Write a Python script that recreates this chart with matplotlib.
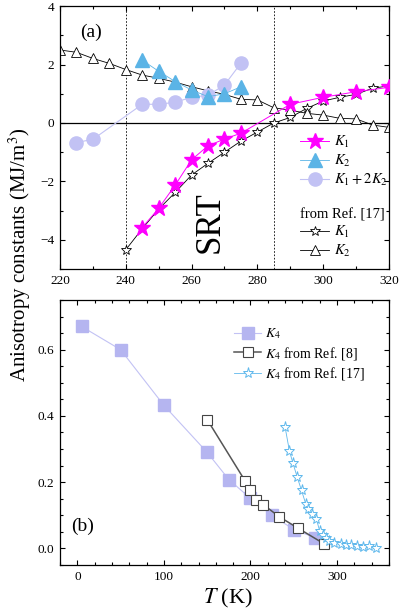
import matplotlib
matplotlib.use("Agg")
import matplotlib.pyplot as plt
from matplotlib.ticker import MultipleLocator

plt.rcParams['font.family'] = ['Liberation Serif', 'DejaVu Serif']
plt.rcParams['mathtext.fontset'] = 'stix'

# ---- Panel (a) data ----
T_k1 = [245, 250, 255, 260, 265, 270, 275, 290, 300, 310, 320]
K1 = [-3.58, -2.92, -2.13, -1.26, -0.78, -0.55, -0.35, 0.64, 0.88, 1.07, 1.22]
T_k2 = [245, 250, 255, 260, 265, 270, 275]
K2 = [2.15, 1.77, 1.42, 1.13, 0.90, 1.00, 1.24]
T_k12 = [225, 230, 245, 250, 255, 260, 265, 270, 275]
K12 = [-0.67, -0.56, 0.64, 0.64, 0.71, 0.88, 0.95, 1.30, 2.05]
T_ref_k1 = [240, 245, 250, 255, 260, 265, 270, 275, 280, 285, 290, 295, 300, 305, 310, 315, 320]
ref_K1 = [-4.34, -3.62, -2.95, -2.38, -1.78, -1.38, -1.0, -0.62, -0.31, 0.0, 0.19, 0.50, 0.75,
          0.88, 0.98, 1.19, 1.27]
T_ref_k2 = [220, 225, 230, 235, 240, 245, 250, 255, 260, 265, 270, 275, 280, 285, 290, 295,
            300, 305, 310, 315, 320]
ref_K2 = [2.50, 2.42, 2.21, 2.04, 1.83, 1.64, 1.53, 1.40, 1.24, 1.10, 0.98, 0.81, 0.79, 0.52,
          0.44, 0.33, 0.27, 0.16, 0.14, -0.07, -0.15]
srt_lines = [240, 285]

# ---- Panel (b) data ----
T_k4 = [5, 50, 100, 150, 175, 200, 225, 250, 275]
K4 = [0.67, 0.60, 0.432, 0.29, 0.208, 0.151, 0.10, 0.057, 0.032]
T_ref8 = [150, 194, 199, 206, 215, 233, 255, 285]
K4_ref8 = [0.389, 0.203, 0.177, 0.147, 0.132, 0.096, 0.061, 0.014]
T_ref17 = [240, 245, 249, 254, 259, 264, 267, 271, 276, 280, 284, 287, 291, 297, 304, 310,
           316, 323, 330, 337, 345]
K4_ref17 = [0.366, 0.294, 0.258, 0.215, 0.175, 0.133, 0.118, 0.105, 0.090, 0.052, 0.040,
            0.030, 0.022, 0.017, 0.012, 0.010, 0.009, 0.007, 0.005, 0.007, 0.002]

MAG = '#FF00FF'
BLUE = '#5BB4E6'
LAV = '#C2C2F4'
LAV_SQ = '#B5B5F0'
LBLUE = '#5FB8EC'

fig = plt.figure(figsize=(4.0, 6.16), dpi=100)
ax1 = fig.add_axes([0.15, 0.5633, 0.8225, 0.4267])
ax2 = fig.add_axes([0.15, 0.0828, 0.8225, 0.4302])

def style(ax):
    ax.tick_params(which='both', direction='in', top=True, right=True, labelsize=9.5,
                   width=0.8, pad=4)
    ax.tick_params(which='major', length=3.8)
    ax.tick_params(which='minor', length=2.0)
    for s in ax.spines.values():
        s.set_linewidth(0.9)

# ---- (a) ----
ax1.axhline(0, color='black', lw=0.9, zorder=1)
for x in srt_lines:
    ax1.axvline(x, color='black', lw=0.6, ls=(0, (2, 2)), zorder=1)
h_r1, = ax1.plot(T_ref_k1, ref_K1, '-', color='black', lw=0.6, marker='*', ms=7.5,
                 mfc='white', mec='black', mew=0.6, label='$K_1$', zorder=2)
h_r2, = ax1.plot(T_ref_k2, ref_K2, '-', color='black', lw=0.6, marker='^', ms=7,
                 mfc='white', mec='black', mew=0.6, label='$K_2$', zorder=2)
h_c, = ax1.plot(T_k12, K12, '-', color=LAV, lw=0.8, marker='o', ms=9.5, mfc=LAV, mec=LAV,
                label='$K_1 + 2K_2$', zorder=3)
h_t, = ax1.plot(T_k2, K2, '-', color=BLUE, lw=0.6, marker='^', ms=10, mfc=BLUE, mec=BLUE,
                label='$K_2$', zorder=4)
h_s, = ax1.plot(T_k1, K1, '-', color=MAG, lw=0.7, marker='*', ms=12, mfc=MAG, mec=MAG,
                label='$K_1$', zorder=5)
ax1.set_xlim(220, 320)
ax1.set_ylim(-5, 4)
ax1.xaxis.set_major_locator(MultipleLocator(20))
ax1.xaxis.set_minor_locator(MultipleLocator(10))
ax1.yaxis.set_major_locator(MultipleLocator(2))
ax1.yaxis.set_minor_locator(MultipleLocator(1))
style(ax1)
ax1.text(229.5, 3.1, '(a)', fontsize=14, ha='center', va='center')
ax1.text(265.5, -3.4, 'SRT', fontsize=25, rotation=90, ha='center', va='center')

leg1 = ax1.legend(handles=[h_s, h_t, h_c], loc='upper left', bbox_to_anchor=(0.73, 0.515),
                  frameon=False, fontsize=10.5, handlelength=2.0, handletextpad=0.3,
                  labelspacing=0.2, borderpad=0, borderaxespad=0)
ax1.add_artist(leg1)
leg2 = ax1.legend(handles=[h_r1, h_r2], loc='upper left', bbox_to_anchor=(0.73, 0.233),
                  frameon=False, fontsize=10.5, handlelength=2.0, handletextpad=0.3,
                  labelspacing=0.2, borderpad=0, borderaxespad=0,
                  title='from Ref. [17]', title_fontsize=10.5, alignment='left')
leg2._legend_box.sep = 2

# ---- (b) ----
g_sq, = ax2.plot(T_k4, K4, '-', color=LAV, lw=0.8, marker='s', ms=8, mfc=LAV_SQ, mec=LAV_SQ,
                 label='$K_4$', zorder=3)
g_r8, = ax2.plot(T_ref8, K4_ref8, '-', color='#555555', lw=1.1, marker='s', ms=6.5,
                 mfc='white', mec='#444444', mew=0.8, label='$K_4$ from Ref. [8]', zorder=4)
g_r17, = ax2.plot(T_ref17, K4_ref17, '-', color=LBLUE, lw=0.6, marker='*', ms=8,
                  mfc='white', mec=LBLUE, mew=0.7, label='$K_4$ from Ref. [17]', zorder=5)
ax2.set_xlim(-20, 360)
ax2.set_ylim(-0.05, 0.75)
ax2.xaxis.set_major_locator(MultipleLocator(100))
ax2.xaxis.set_minor_locator(MultipleLocator(20))
ax2.yaxis.set_major_locator(MultipleLocator(0.2))
ax2.yaxis.set_minor_locator(MultipleLocator(0.05))
ax2.yaxis.set_major_formatter(matplotlib.ticker.FormatStrFormatter('%.1f'))
style(ax2)
ax2.text(6, 0.066, '(b)', fontsize=14, ha='center', va='center')
ax2.legend(handles=[g_sq, g_r8, g_r17], loc='upper left', bbox_to_anchor=(0.53, 0.9),
           frameon=False, fontsize=10, handlelength=1.9, handletextpad=0.3,
           labelspacing=0.25, borderpad=0, borderaxespad=0)

fig.text(0.05, 0.586, 'Anisotropy constants (MJ/m$^3$)', rotation=90, fontsize=15,
         ha='center', va='center')
fig.text(0.57, 0.029, '$T$ (K)', fontsize=16, ha='center', va='center')

fig.savefig('out.png', dpi=100)
